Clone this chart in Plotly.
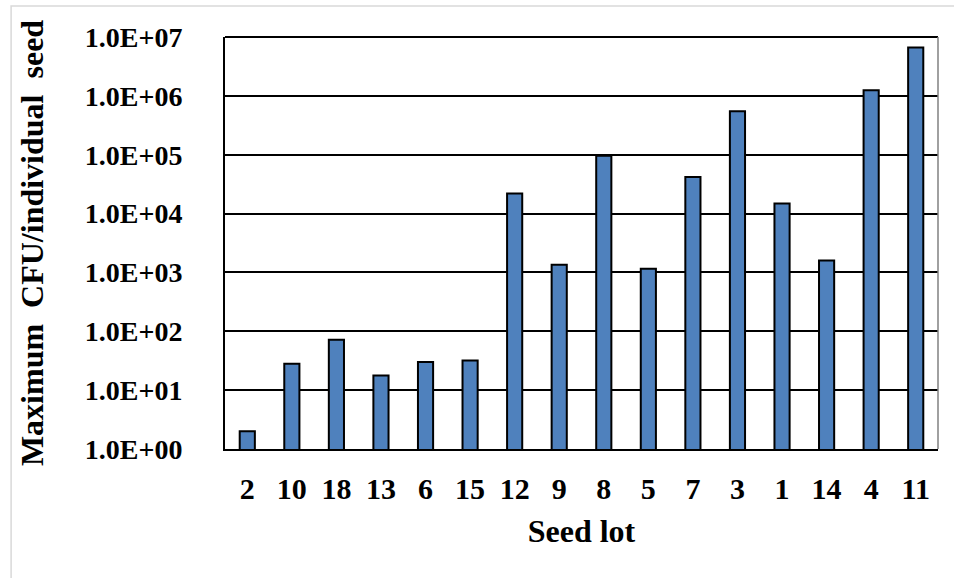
import plotly.graph_objects as go

# Seed lots ordered as on the x axis, with the maximum CFU per individual seed
seed_lots = ["2", "10", "18", "13", "6", "15", "12", "9", "8", "5", "7", "3", "1", "14", "4", "11"]
max_cfu = [2.0, 28, 72, 17.7, 30, 32, 21900, 1350, 96000, 1150, 42000, 550000, 14800, 1600, 1.25e6, 6.6e6]

tick_vals = [1e0, 1e1, 1e2, 1e3, 1e4, 1e5, 1e6, 1e7]
tick_text = ["1.0E+00", "1.0E+01", "1.0E+02", "1.0E+03", "1.0E+04", "1.0E+05", "1.0E+06", "1.0E+07"]

FONT = "Liberation Serif, Times New Roman, serif"

fig = go.Figure(
    go.Bar(
        x=seed_lots,
        y=max_cfu,
        marker=dict(color="#4F81BD", line=dict(color="#000000", width=2)),
        width=0.34,
    )
)

fig.update_layout(
    width=954,
    height=578,
    margin=dict(l=225, r=16, t=37, b=129),
    paper_bgcolor="white",
    plot_bgcolor="white",
    showlegend=False,
    font=dict(family=FONT, size=30, color="black"),
    xaxis=dict(
        type="category",
        showline=True,
        linecolor="black",
        linewidth=2,
        showgrid=False,
        ticks="",
        ticklabelstandoff=12,
        tickfont=dict(family=FONT, size=30, color="black", weight="bold"),
        title=dict(text="<b>Seed lot</b>", font=dict(family=FONT, size=32), standoff=16),
    ),
    yaxis=dict(
        type="log",
        range=[0, 7],
        tickvals=tick_vals,
        ticktext=tick_text,
        showline=True,
        linecolor="black",
        linewidth=2,
        showgrid=True,
        gridcolor="black",
        gridwidth=1.5,
        ticks="",
        ticklabelstandoff=35,
        tickfont=dict(family=FONT, size=28, color="black", weight="bold"),
        title=dict(text="<b>Maximum  CFU/individual  seed</b>",
                   font=dict(family=FONT, size=32), standoff=32),
    ),
    shapes=[
        # top gridline of the plotting area (1.0E+07)
        dict(type="line", xref="paper", yref="paper", x0=0, x1=1, y0=1, y1=1,
             line=dict(color="black", width=2), layer="above"),
        # thin frame on the right side of the plotting area
        dict(type="line", xref="paper", yref="paper", x0=1, x1=1, y0=0, y1=1,
             line=dict(color="#808080", width=1.5), layer="above"),
        # light outer border of the chart area
        dict(type="rect", xref="paper", yref="paper", x0=-0.3, x1=1.2, y0=-0.6, y1=1.0752,
             line=dict(color="#D9D9D9", width=1.5), layer="below"),
    ],
)

fig.write_html("out.html")
